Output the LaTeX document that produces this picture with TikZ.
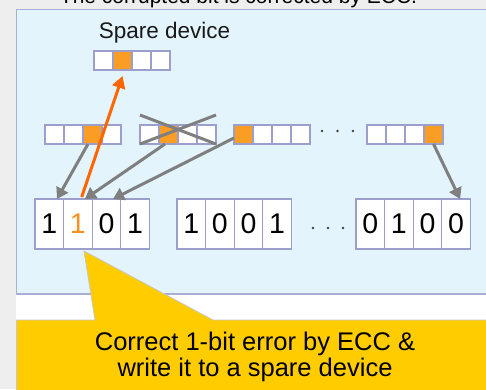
\documentclass[tikz,border=0pt]{standalone}
\usepackage{fontspec}
\setmainfont{Liberation Sans}
\usetikzlibrary{arrows.meta}
\definecolor{panelblue}{HTML}{E3F4FC}
\definecolor{panelline}{HTML}{A9AED6}
\definecolor{cellline}{HTML}{9C9FCB}
\definecolor{bitorange}{HTML}{F99D25}
\definecolor{digitorange}{HTML}{F7901E}
\definecolor{arrgray}{HTML}{7F7F7F}
\definecolor{hotorange}{HTML}{FF6600}
\definecolor{calloutyellow}{HTML}{FFCC00}
\definecolor{bggray}{HTML}{EEEEEE}
\begin{document}
\begin{tikzpicture}[x=1pt,y=-1pt,
  scell/.style={draw=cellline, line width=1.2pt, fill=white, minimum width=19pt, minimum height=19pt, inner sep=0pt, outer sep=0pt, anchor=north west},
  ocell/.style={scell, fill=bitorange},
  bcell/.style={draw=cellline, line width=1.2pt, fill=white, minimum width=28.6pt, minimum height=50pt, inner sep=0pt, outer sep=0pt, anchor=north west, font=\fontsize{28.5}{28.5}\selectfont},
  garrow/.style={draw=arrgray, line width=3pt, -{Triangle[length=11pt,width=13pt]}},
  oarrow/.style={draw=hotorange, line width=3pt, -{Triangle[length=12pt,width=13pt]}},
  xline/.style={draw=arrgray, line width=3pt},
  dotmark/.style={fill=black!75},
  lbl/.style={anchor=base, inner sep=0pt}
]
\clip (0,0) rectangle (486,389);
\fill[bggray] (0,0) rectangle (486,389);
\fill[white] (16,9) rectangle (486,389);
\filldraw[fill=panelblue, draw=panelline, line width=1.2pt] (16.5,9.8) rectangle (495,294);

% top caption (cut off at the top edge, as in the reference)
\node[lbl, font=\fontsize{21}{21}\selectfont] (cap) at (238.5,3.5) {The corrupted bit is corrected by ECC.};

% spare device
\node[lbl, font=\fontsize{22.5}{22.5}\selectfont, text=black!90] (sparelbl) at (164.5,38) {Spare device};
\node[scell] (s1) at (94,51) {};
\node[ocell] (s2) at (113,51) {};
\node[scell] (s3) at (132,51) {};
\node[scell] (s4) at (151,51) {};

% top row devices
\node[scell] (t11) at (45,125) {};
\node[scell] (t12) at (64,125) {};
\node[ocell] (t13) at (83,125) {};
\node[scell] (t14) at (102,125) {};

\node[scell] (t21) at (140,125) {};
\node[ocell] (t22) at (159,125) {};
\node[scell] (t23) at (178,125) {};
\node[scell] (t24) at (197,125) {};

\node[ocell] (t31) at (234,125) {};
\node[scell] (t32) at (253,125) {};
\node[scell] (t33) at (272,125) {};
\node[scell] (t34) at (291,125) {};

\node[scell] (t41) at (367,125) {};
\node[scell] (t42) at (386,125) {};
\node[scell] (t43) at (405,125) {};
\node[ocell] (t44) at (424,125) {};

\fill[dotmark] (322,131) circle (1.3) (337.5,131) circle (1.3) (353,131) circle (1.3);

% bottom row bits
\node[bcell] (b11) at (35,199) {1};
\node[bcell, text=digitorange] (b12) at (63.6,199) {1};
\node[bcell] (b13) at (92.2,199) {0};
\node[bcell] (b14) at (120.8,199) {1};

\node[bcell] (b21) at (177,199) {1};
\node[bcell] (b22) at (205.6,199) {0};
\node[bcell] (b23) at (234.2,199) {0};
\node[bcell] (b24) at (262.8,199) {1};

\node[bcell] (b31) at (356,199) {0};
\node[bcell] (b32) at (384.6,199) {1};
\node[bcell] (b33) at (413.2,199) {0};
\node[bcell] (b34) at (441.8,199) {0};

\fill[dotmark] (313,228) circle (1.3) (328,228) circle (1.3) (343,228) circle (1.3);

% cross over failed device
\draw[xline] ([yshift=10pt]t21.north west) -- (t24.south east);
\draw[xline] (t21.south west) -- ([yshift=10pt]t24.north east);

% gray arrows
\draw[garrow] ([xshift=-4.5pt]t13.south) -- ([xshift=7.7pt]b11.north);
\draw[garrow] ([xshift=-3.5pt]t22.south) -- ([xshift=7pt]b12.north);
\draw[garrow] ([yshift=-3.5pt]t31.west) -- ([xshift=6.5pt]b13.north);
\draw[garrow] (t44.south) -- ([xshift=4pt]b34.north);

% orange arrow
\draw[oarrow] ([xshift=3.8pt,yshift=2pt]b12.north) -- ([yshift=-6pt]s2.south);

% callout
\filldraw[fill=calloutyellow, draw=black!22, line width=0.8pt]
  (16.5,320) -- (95,320) -- (84,251) -- (213,320) -- (495,320) -- (495,395) -- (16.5,395) -- cycle;
\node[lbl, font=\fontsize{25.5}{25.5}\selectfont] (co1) at (255,350) {Correct 1-bit error by ECC \&};
\node[lbl, font=\fontsize{25.5}{25.5}\selectfont] (co2) at (255,376.5) {write it to a spare device};
\end{tikzpicture}
\end{document}
